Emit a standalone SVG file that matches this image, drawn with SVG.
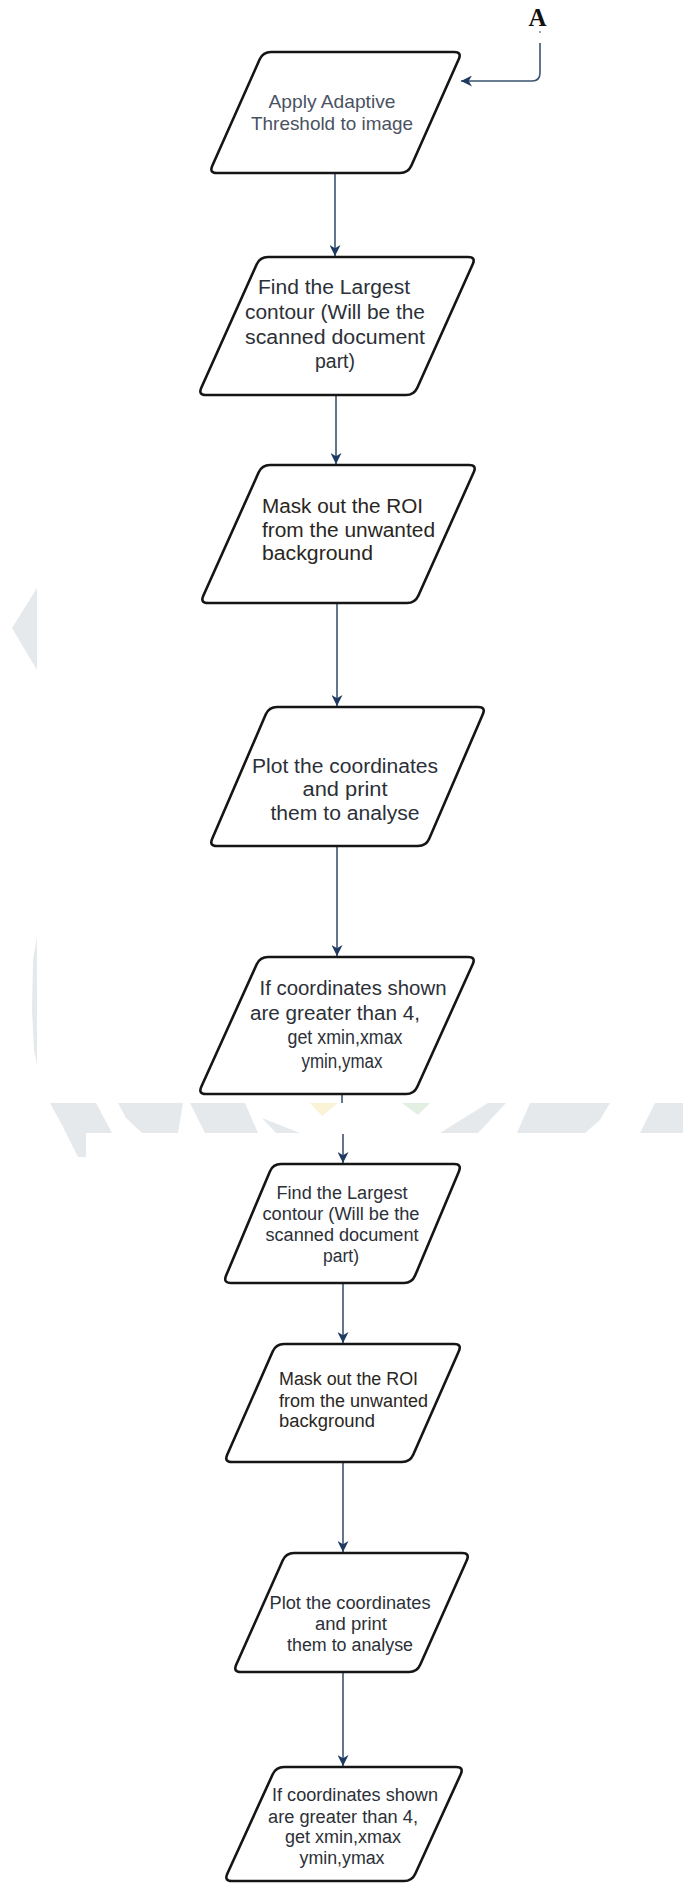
<svg xmlns="http://www.w3.org/2000/svg" width="683" height="1885" viewBox="0 0 683 1885">
<defs>
<marker id="arr" viewBox="0 0 10 10" refX="10" refY="5" markerWidth="11" markerHeight="11" markerUnits="userSpaceOnUse" orient="auto">
<path d="M0,0 L10,5 L0,10 L3,5 Z" fill="#1e3a62"/>
</marker>
<style>
.shape{fill:#ffffff;stroke:#151515;stroke-width:2.6;stroke-linejoin:round}
.edge{fill:none;stroke:#3d5470;stroke-width:1.6}
.t{font-family:"Liberation Sans",Arial,sans-serif;fill:#2c3038}
.u{font-size:19.5px}
.l{font-size:18px}
.wm{fill:#e5e9ec}
</style>
</defs>
<rect x="0" y="0" width="683" height="1885" fill="#ffffff"/>
<g id="watermark">
<polygon class="wm" points="37,588 12,628 37,670"/>
<polygon class="wm" points="37,937 33,960 32,1010 34,1050 37,1065"/>
<polygon class="wm" points="50,1103 96,1103 112,1133 86,1133 86,1157 78,1157 62,1125"/>
<polygon class="wm" points="118,1103 183,1103 178,1133 142,1133 126,1118"/>
<polygon class="wm" points="190,1103 245,1103 258,1133 205,1133"/>
<polygon class="wm" points="262,1118 300,1133 276,1133"/>
<polygon points="310,1103 338,1103 322,1116" fill="#fbf3d5"/>
<polygon points="402,1103 430,1103 418,1115" fill="#e2efe2"/>
<polygon class="wm" points="440,1133 478,1133 506,1103 488,1103"/>
<polygon class="wm" points="517,1133 530,1103 610,1103 600,1120 585,1133"/>
<polygon class="wm" points="640,1133 655,1103 683,1103 683,1133"/>
</g>
<g id="connectors">
<circle cx="540" cy="32" r="1" fill="#6a8aa8"/>
<path class="edge" d="M540,43 V73 Q540,81 532,81 H461" stroke="#6a8aa8" marker-end="url(#arr)"/>
<path class="edge" d="M335,173 V256" marker-end="url(#arr)"/>
<path class="edge" d="M336,395 V464" marker-end="url(#arr)"/>
<path class="edge" d="M337,603 V706" marker-end="url(#arr)"/>
<path class="edge" d="M337,846 V956" marker-end="url(#arr)"/>
<path class="edge" d="M342,1094 V1103"/>
<path class="edge" d="M343,1134 V1163" marker-end="url(#arr)"/>
<path class="edge" d="M343,1283 V1343" marker-end="url(#arr)"/>
<path class="edge" d="M343,1462 V1552" marker-end="url(#arr)"/>
<path class="edge" d="M343,1672 V1766" marker-end="url(#arr)"/>
</g>
<g id="labelA">
<text x="537.5" y="26" text-anchor="middle" font-family="'Liberation Serif','Times New Roman',serif" font-weight="bold" font-size="25" fill="#111111">A</text>
</g>
<g id="node1">
<path class="shape" d="M271,52 H454 Q462,52 458.7,59.3 L411.3,165.7 Q408,173 400,173 H217 Q209,173 212.3,165.7 L259.7,59.3 Q263,52 271,52 Z"/>
<text class="t" font-size="18.5" text-anchor="middle" x="332" y="108" textLength="127" lengthAdjust="spacingAndGlyphs" style="fill:#4a5262">Apply Adaptive</text>
<text class="t" font-size="18.5" text-anchor="middle" x="332" y="130" textLength="162" lengthAdjust="spacingAndGlyphs" style="fill:#4a5262">Threshold to image</text>
</g>
<g id="node2">
<path class="shape" d="M268,257 H468 Q476,257 472.7,264.3 L417.3,387.7 Q414,395 406,395 H206 Q198,395 201.3,387.7 L256.7,264.3 Q260,257 268,257 Z"/>
<text class="t u" text-anchor="middle" x="334" y="294" textLength="152" lengthAdjust="spacingAndGlyphs">Find the Largest</text>
<text class="t u" text-anchor="middle" x="335" y="319" textLength="180" lengthAdjust="spacingAndGlyphs">contour (Will be the</text>
<text class="t u" text-anchor="middle" x="335" y="344" textLength="180" lengthAdjust="spacingAndGlyphs">scanned document</text>
<text class="t u" text-anchor="middle" x="335" y="368" textLength="40" lengthAdjust="spacingAndGlyphs">part)</text>
</g>
<g id="node3">
<path class="shape" d="M270,465 H469 Q477,465 473.7,472.3 L418.3,595.7 Q415,603 407,603 H208 Q200,603 203.3,595.7 L258.7,472.3 Q262,465 270,465 Z"/>
<text class="t u" x="262" y="513" textLength="161" lengthAdjust="spacingAndGlyphs" style="fill:#2a2622">Mask out the ROI</text>
<text class="t u" x="262" y="537" textLength="173" lengthAdjust="spacingAndGlyphs" style="fill:#2a2622">from the unwanted</text>
<text class="t u" x="262" y="560" textLength="111" lengthAdjust="spacingAndGlyphs" style="fill:#2a2622">background</text>
</g>
<g id="node4">
<path class="shape" d="M277,707 H478 Q486,707 482.8,714.3 L429.2,838.7 Q426,846 418,846 H217 Q209,846 212.2,838.7 L265.8,714.3 Q269,707 277,707 Z"/>
<text class="t u" text-anchor="middle" x="345" y="773" textLength="186" lengthAdjust="spacingAndGlyphs">Plot the coordinates</text>
<text class="t u" text-anchor="middle" x="345" y="796" textLength="85" lengthAdjust="spacingAndGlyphs">and print</text>
<text class="t u" text-anchor="middle" x="345" y="820" textLength="149" lengthAdjust="spacingAndGlyphs">them to analyse</text>
</g>
<g id="node5">
<path class="shape" d="M268,957 H468 Q476,957 472.7,964.3 L417.3,1086.7 Q414,1094 406,1094 H206 Q198,1094 201.3,1086.7 L256.7,964.3 Q260,957 268,957 Z"/>
<text class="t u" text-anchor="middle" x="353" y="995" textLength="187" lengthAdjust="spacingAndGlyphs">If coordinates shown</text>
<text class="t u" text-anchor="middle" x="335" y="1020" textLength="170" lengthAdjust="spacingAndGlyphs">are greater than 4,</text>
<text class="t u" text-anchor="middle" x="345" y="1044" textLength="115" lengthAdjust="spacingAndGlyphs">get xmin,xmax</text>
<text class="t u" text-anchor="middle" x="342" y="1068" textLength="81" lengthAdjust="spacingAndGlyphs">ymin,ymax</text>
</g>
<g id="node6">
<path class="shape" d="M281,1164 H454 Q462,1164 458.9,1171.4 L415.1,1275.6 Q412,1283 404,1283 H231 Q223,1283 226.1,1275.6 L269.9,1171.4 Q273,1164 281,1164 Z"/>
<text class="t l" text-anchor="middle" x="342" y="1199" textLength="131" lengthAdjust="spacingAndGlyphs">Find the Largest</text>
<text class="t l" text-anchor="middle" x="341" y="1220" textLength="157" lengthAdjust="spacingAndGlyphs">contour (Will be the</text>
<text class="t l" text-anchor="middle" x="342" y="1241" textLength="153" lengthAdjust="spacingAndGlyphs">scanned document</text>
<text class="t l" text-anchor="middle" x="341" y="1262" textLength="36" lengthAdjust="spacingAndGlyphs">part)</text>
</g>
<g id="node7">
<path class="shape" d="M284,1344 H454 Q462,1344 458.8,1351.3 L413.2,1454.7 Q410,1462 402,1462 H232 Q224,1462 227.2,1454.7 L272.8,1351.3 Q276,1344 284,1344 Z"/>
<text class="t l" x="279" y="1385" textLength="139" lengthAdjust="spacingAndGlyphs" style="fill:#2a2622">Mask out the ROI</text>
<text class="t l" x="279" y="1407" textLength="149" lengthAdjust="spacingAndGlyphs" style="fill:#2a2622">from the unwanted</text>
<text class="t l" x="279" y="1427" textLength="96" lengthAdjust="spacingAndGlyphs" style="fill:#2a2622">background</text>
</g>
<g id="node8">
<path class="shape" d="M294,1553 H462 Q470,1553 466.8,1560.3 L420.2,1664.7 Q417,1672 409,1672 H241 Q233,1672 236.2,1664.7 L282.8,1560.3 Q286,1553 294,1553 Z"/>
<text class="t l" text-anchor="middle" x="350" y="1609" textLength="161" lengthAdjust="spacingAndGlyphs">Plot the coordinates</text>
<text class="t l" text-anchor="middle" x="351" y="1630" textLength="72" lengthAdjust="spacingAndGlyphs">and print</text>
<text class="t l" text-anchor="middle" x="350" y="1651" textLength="126" lengthAdjust="spacingAndGlyphs">them to analyse</text>
</g>
<g id="node9">
<path class="shape" d="M284,1767 H456 Q464,1767 460.7,1774.3 L415.3,1873.7 Q412,1881 404,1881 H232 Q224,1881 227.3,1873.7 L272.7,1774.3 Q276,1767 284,1767 Z"/>
<text class="t l" text-anchor="middle" x="355" y="1801" textLength="166" lengthAdjust="spacingAndGlyphs">If coordinates shown</text>
<text class="t l" text-anchor="middle" x="343" y="1823" textLength="150" lengthAdjust="spacingAndGlyphs">are greater than 4,</text>
<text class="t l" text-anchor="middle" x="343" y="1843" textLength="116" lengthAdjust="spacingAndGlyphs">get xmin,xmax</text>
<text class="t l" text-anchor="middle" x="342" y="1864" textLength="85" lengthAdjust="spacingAndGlyphs">ymin,ymax</text>
</g>
</svg>
